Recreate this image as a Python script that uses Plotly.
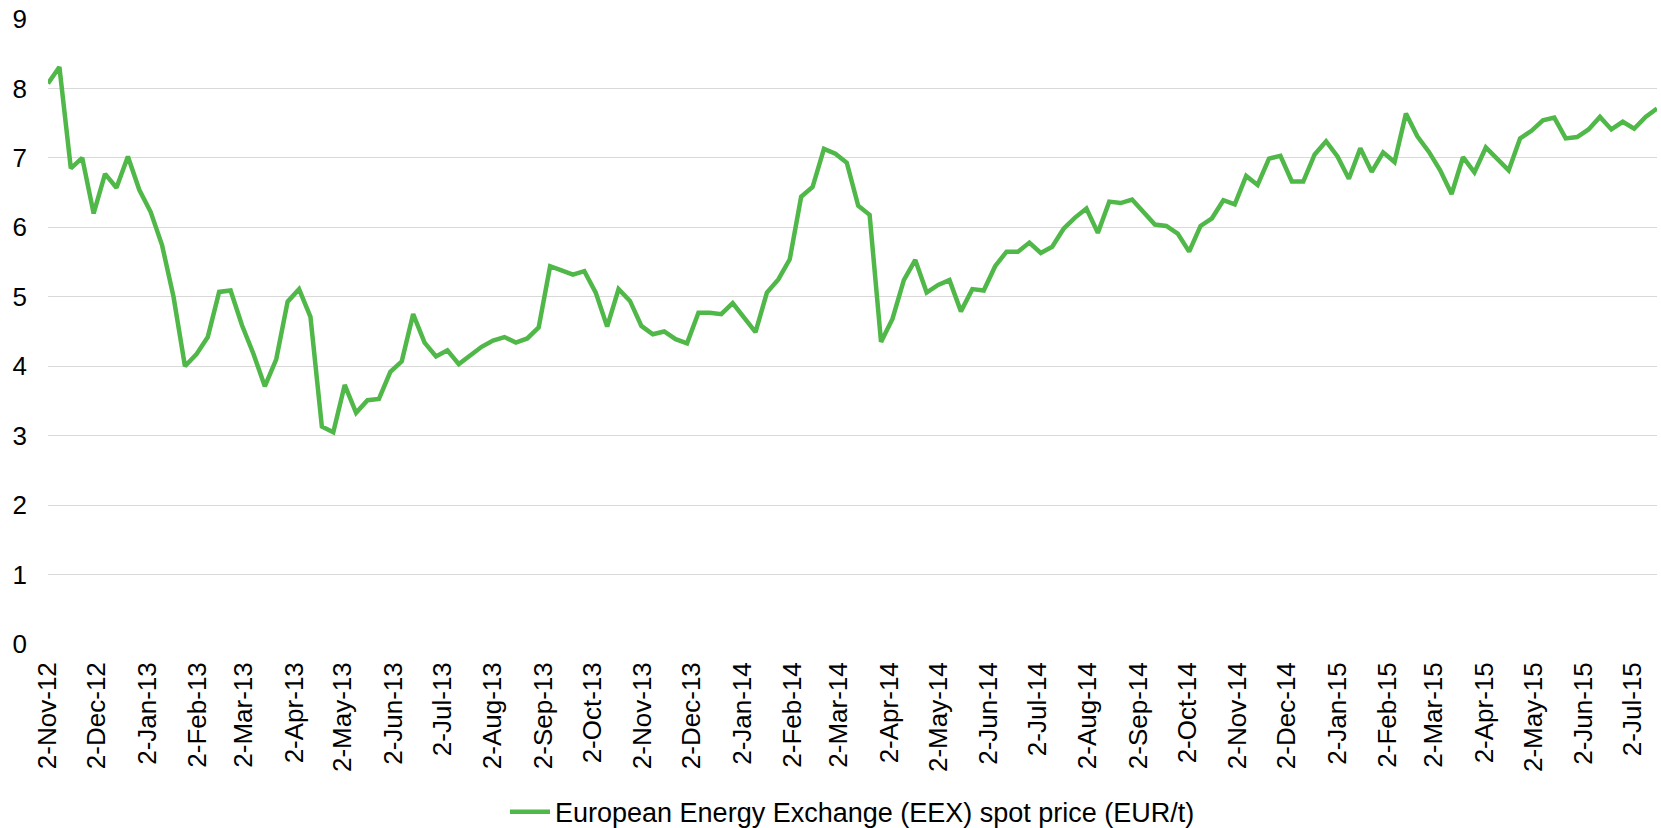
import pandas as pd
import plotly.graph_objects as go

# Weekly EEX spot price, Fridays from 2 Nov 2012
start_date = "2012-11-02"
eex_price = [
    8.07, 8.31, 6.85, 7.00, 6.20, 6.77, 6.57, 7.02, 6.54, 6.22,
    5.74, 5.00, 4.00, 4.17, 4.42, 5.07, 5.09, 4.59, 4.18, 3.71,
    4.10, 4.93, 5.11, 4.71, 3.13, 3.05, 3.73, 3.33, 3.51, 3.53,
    3.92, 4.07, 4.75, 4.34, 4.14, 4.23, 4.03, 4.16, 4.28, 4.37,
    4.42, 4.34, 4.40, 4.56, 5.44, 5.38, 5.32, 5.37, 5.06, 4.57,
    5.11, 4.94, 4.58, 4.46, 4.50, 4.39, 4.33, 4.77, 4.77, 4.75,
    4.91, 4.70, 4.49, 5.06, 5.25, 5.54, 6.44, 6.58, 7.13, 7.06,
    6.93, 6.31, 6.18, 4.35, 4.68, 5.24, 5.53, 5.06, 5.17, 5.24,
    4.79, 5.11, 5.09, 5.44, 5.65, 5.65, 5.78, 5.63, 5.72, 5.98,
    6.14, 6.27, 5.92, 6.37, 6.35, 6.40, 6.23, 6.04, 6.02, 5.91,
    5.65, 6.02, 6.13, 6.39, 6.33, 6.74, 6.61, 6.99, 7.03, 6.66,
    6.66, 7.05, 7.24, 7.02, 6.70, 7.14, 6.80, 7.08, 6.94, 7.64,
    7.31, 7.09, 6.82, 6.48, 7.01, 6.79, 7.15, 6.99, 6.82, 7.28,
    7.39, 7.54, 7.58, 7.28, 7.30, 7.41, 7.59, 7.41, 7.52, 7.42,
    7.59, 7.71,
]
week_dates = pd.date_range(start_date, periods=len(eex_price), freq="7D")

# Monthly tick marks on the 2nd of each month
tick_dates = pd.date_range(start_date, "2015-07-02", freq=pd.DateOffset(months=1))
tick_labels = [f"{d.day}-{d.strftime('%b')}-{d.strftime('%y')}" for d in tick_dates]

y_ticks = [0, 1, 2, 3, 4, 5, 6, 7, 8, 9]

series_name = "European Energy Exchange (EEX) spot price (EUR/t)"
line_color = "#50B848"
grid_color = "#D9D9D9"
font_family = "Liberation Sans, Arial, sans-serif"

fig = go.Figure()
fig.add_trace(
    go.Scatter(
        x=week_dates,
        y=eex_price,
        mode="lines",
        name=series_name,
        line=dict(color=line_color, width=4.5),
    )
)

fig.update_layout(
    width=1661,
    height=828,
    margin=dict(l=48, r=4, t=19, b=184, autoexpand=False),
    paper_bgcolor="white",
    plot_bgcolor="white",
    font=dict(family=font_family, size=26, color="#000000"),
    showlegend=True,
    legend=dict(
        orientation="h",
        x=0.5,
        xanchor="center",
        yref="paper",
        y=-0.269,
        yanchor="middle",
        font=dict(size=27),
        itemwidth=40,
    ),
    xaxis=dict(
        type="date",
        range=[week_dates[0], week_dates[-1]],
        tickmode="array",
        tickvals=tick_dates,
        ticktext=tick_labels,
        tickangle=-90,
        showgrid=False,
        zeroline=False,
        showline=False,
        ticks="",
        ticklabelstandoff=12,
        tickfont=dict(size=26),
    ),
    yaxis=dict(
        range=[0, 9],
        tickmode="array",
        tickvals=y_ticks,
        showgrid=True,
        gridcolor=grid_color,
        gridwidth=1.3,
        zeroline=False,
        showline=False,
        ticks="",
        ticklabelstandoff=20,
        tickfont=dict(size=26),
    ),
)

fig.write_html("out.html")
